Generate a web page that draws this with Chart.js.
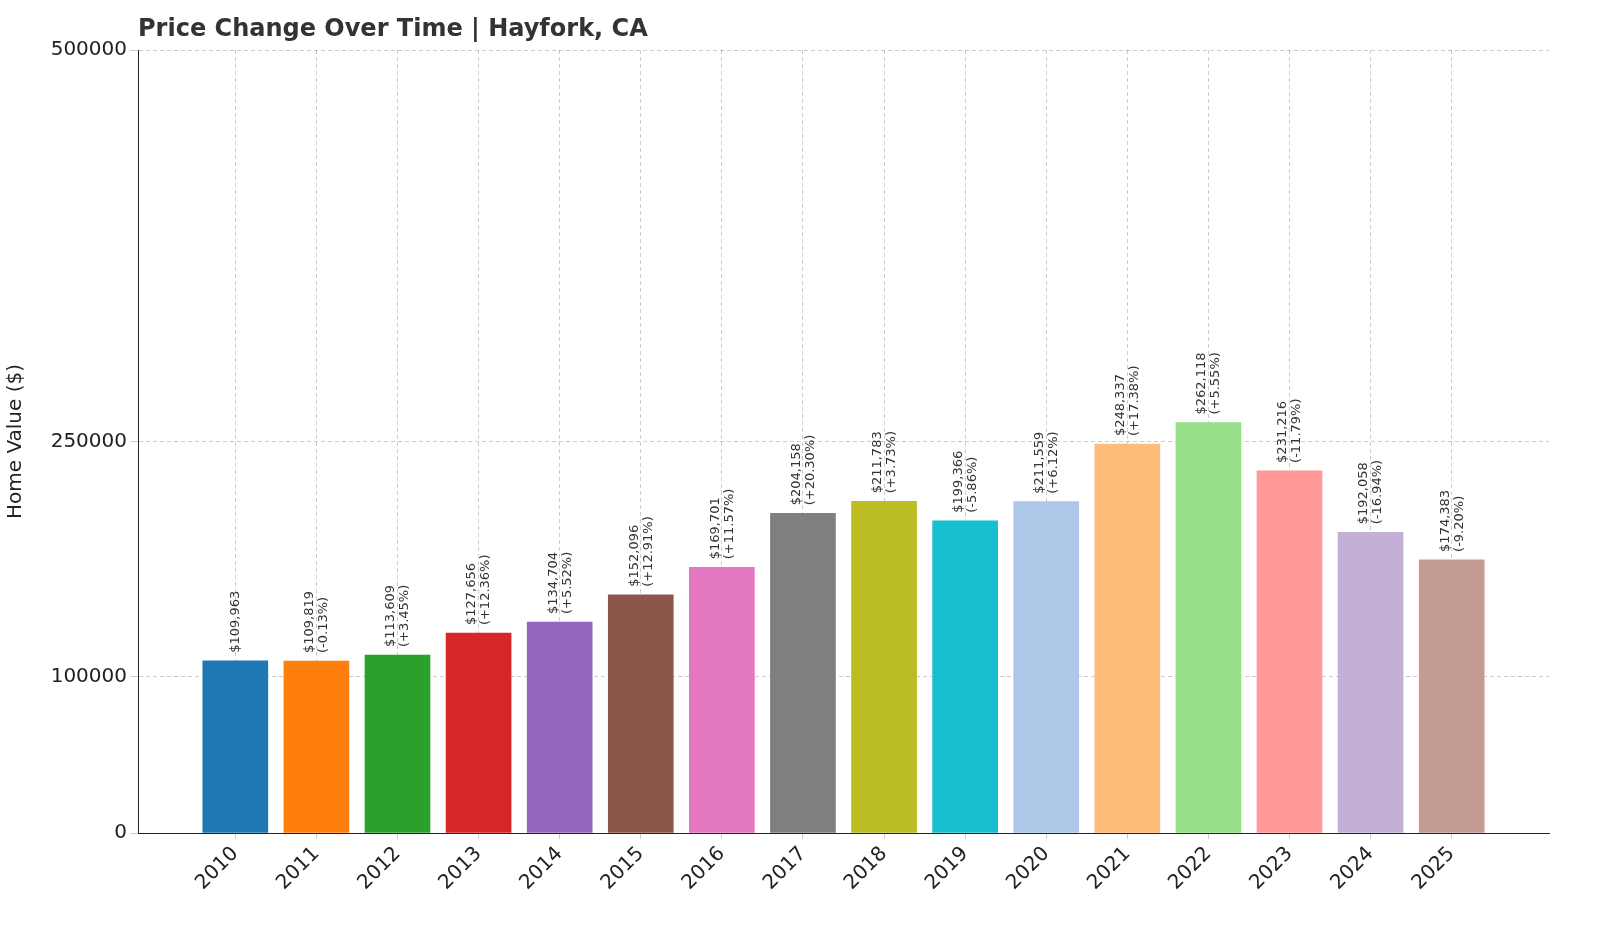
<!DOCTYPE html>
<html>
<head>
<meta charset="utf-8">
<script src="https://cdn.jsdelivr.net/npm/chart.js@4.4.1/dist/chart.umd.min.js"></script>
<style>
  html, body { margin: 0; padding: 0; background: #fff; overflow: hidden; }
  #wrap { width: 1600px; height: 933px; position: relative; }
  canvas { display: block; }
</style>
</head>
<body>
<div id="wrap"><canvas id="chart"></canvas></div>
<script>
// 資料
const years = [2010, 2011, 2012, 2013, 2014, 2015, 2016, 2017, 2018, 2019, 2020, 2021, 2022, 2023, 2024, 2025];
const values = [109963, 109819, 113609, 127656, 134704, 152096, 169701, 204158, 211783, 199366, 211559, 248337, 262118, 231216, 192058, 174383];
const changes = ['', '-0.13%', '+3.45%', '+12.36%', '+5.52%', '+12.91%', '+11.57%', '+20.30%', '+3.73%', '-5.86%', '+6.12%', '+17.38%', '+5.55%', '-11.79%', '-16.94%', '-9.20%'];
const yTicks = [0, 100000, 250000, 500000];
const colors = ['#1f77b4', '#ff7f0e', '#2ca02c', '#d62728', '#9467bd', '#8c564b', '#e377c2', '#7f7f7f',
                '#bcbd22', '#17becf', '#aec7e8', '#ffbb78', '#98df8a', '#ff9896', '#c5b0d5', '#c49c94'];

const FONT = '"DejaVu Sans", sans-serif';

// 標題與數值標籤
const labelPlugin = {
    id: 'labels',
    afterDraw(chart) {
        const ctx = chart.ctx;
        ctx.save();
        ctx.fillStyle = '#333';
        ctx.font = 'bold 24px ' + FONT;
        ctx.textBaseline = 'middle';
        ctx.fillText('Price Change Over Time | Hayfork, CA', 138, 30);

        const meta = chart.getDatasetMeta(0);
        ctx.font = '13px ' + FONT;
        ctx.fillStyle = '#333';
        meta.data.forEach((bar, i) => {
            const price = '$' + values[i].toLocaleString('en-US');
            ctx.save();
            ctx.translate(bar.x, bar.y - 8);
            ctx.rotate(-Math.PI / 2);
            ctx.textAlign = 'left';
            if (changes[i]) {
                ctx.textBaseline = 'bottom';
                ctx.fillText(price, 0, 0);
                ctx.textBaseline = 'top';
                ctx.fillText('(' + changes[i] + ')', 0, 1);
            } else {
                ctx.textBaseline = 'middle';
                ctx.fillText(price, 0, 0);
            }
            ctx.restore();
        });
        ctx.restore();
    }
};

new Chart(document.getElementById('chart'), {
    type: 'bar',
    data: {
        datasets: [{
            data: years.map((y, i) => ({ x: y, y: values[i] })),
            backgroundColor: colors,
            barThickness: 65
        }]
    },
    options: {
        responsive: true,
        maintainAspectRatio: false,
        animation: false,
        layout: { padding: { top: 50, right: 51 } },
        plugins: { legend: { display: false }, tooltip: { enabled: false } },
        scales: {
            x: {
                type: 'linear',
                offset: false,
                min: 2008.8,
                max: 2026.2,
                afterBuildTicks(axis) { axis.ticks = years.map(v => ({ value: v })); },
                afterFit(axis) { axis.height = 100; },
                ticks: {
                    callback: v => String(v),
                    maxRotation: 45, minRotation: 45,
                    font: { family: FONT, size: 20 }, color: '#222'
                },
                grid: { color: 'rgba(0,0,0,0.2)', tickLength: 6, offset: false },
                border: { display: true, color: '#222', dash: [4, 3] }
            },
            y: {
                min: 0,
                max: 500000,
                afterBuildTicks(axis) { axis.ticks = yTicks.map(v => ({ value: v })); },
                afterFit(axis) { axis.width = 138; },
                ticks: { callback: v => String(v), font: { family: FONT, size: 20 }, color: '#222' },
                title: { display: true, text: 'Home Value ($)', font: { family: FONT, size: 20 }, color: '#222' },
                grid: { color: 'rgba(0,0,0,0.2)' },
                border: { display: true, color: '#222', dash: [4, 3] }
            }
        }
    },
    plugins: [labelPlugin]
});
</script>
</body>
</html>
